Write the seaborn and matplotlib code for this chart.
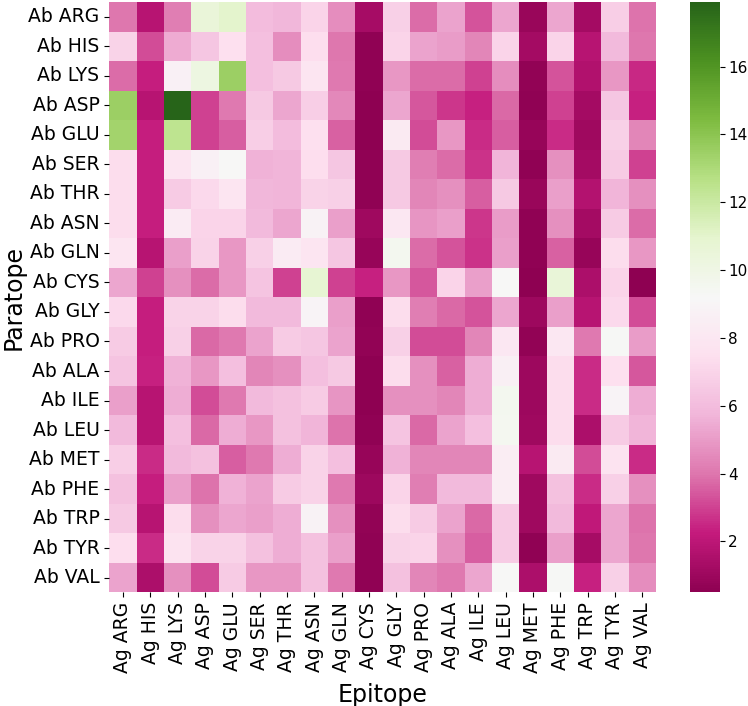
import numpy as np
import pandas as pd
import matplotlib
matplotlib.use("Agg")
import matplotlib.pyplot as plt
import seaborn as sns

# residue labels
epitope = ["ARG", "HIS", "LYS", "ASP", "GLU", "SER", "THR", "ASN", "GLN", "CYS",
           "GLY", "PRO", "ALA", "ILE", "LEU", "MET", "PHE", "TRP", "TYR", "VAL"]
paratope = list(epitope)

# one row per antibody residue
ab_arg = [4.0, 1.8, 4.2, 10.5, 11.0, 6.0, 5.8, 7.0, 4.6, 1.3, 6.8, 3.8, 5.2, 3.3, 5.3, 0.9, 5.3, 1.2, 6.7, 3.9]
ab_his = [6.9, 3.2, 5.4, 6.4, 7.5, 6.1, 4.6, 7.4, 4.0, 0.6, 7.0, 5.2, 5.0, 4.4, 7.0, 1.2, 7.0, 1.8, 5.9, 4.0]
ab_lys = [3.8, 2.3, 8.7, 10.2, 13.5, 6.1, 6.5, 7.9, 4.1, 0.6, 4.9, 3.8, 3.8, 3.0, 4.6, 0.7, 3.3, 1.6, 4.9, 2.5]
ab_asp = [13.5, 1.8, 17.9, 3.0, 4.1, 6.5, 5.3, 6.7, 4.5, 0.5, 5.3, 3.4, 2.8, 2.4, 3.7, 0.6, 3.0, 1.2, 6.4, 2.4]
ab_glu = [13.3, 2.3, 12.4, 3.0, 3.5, 6.7, 6.0, 7.5, 3.6, 0.5, 8.2, 3.2, 4.9, 2.6, 3.5, 0.8, 2.6, 1.1, 6.8, 4.4]
ab_ser = [7.3, 2.3, 7.8, 8.7, 9.2, 5.6, 5.7, 7.4, 6.4, 0.6, 6.5, 4.2, 3.8, 2.7, 5.7, 0.6, 4.7, 1.2, 6.6, 3.0]
ab_thr = [7.3, 2.3, 6.6, 7.2, 7.8, 5.8, 5.7, 6.9, 6.8, 0.6, 6.5, 4.4, 4.7, 3.5, 6.5, 0.9, 5.1, 1.7, 5.7, 4.7]
ab_asn = [7.3, 2.3, 8.3, 7.0, 7.0, 5.9, 5.3, 8.8, 5.1, 1.1, 8.0, 4.8, 5.1, 2.8, 5.0, 0.6, 4.7, 1.2, 6.6, 3.8]
ab_gln = [7.8, 1.8, 5.1, 6.9, 4.9, 6.8, 8.3, 7.8, 6.4, 0.8, 9.6, 3.8, 3.3, 2.7, 5.1, 0.6, 3.6, 0.8, 7.3, 4.9]
ab_cys = [5.3, 3.0, 4.7, 3.8, 4.9, 6.3, 3.0, 10.8, 3.0, 2.4, 4.9, 3.4, 7.0, 5.1, 9.2, 0.5, 10.6, 1.5, 7.0, 0.5]
ab_gly = [7.2, 2.3, 6.9, 6.9, 7.3, 5.9, 5.9, 8.9, 5.1, 0.6, 7.3, 4.2, 3.7, 3.3, 5.3, 1.0, 5.1, 1.8, 7.2, 3.2]
ab_pro = [6.6, 2.3, 6.8, 3.7, 4.1, 5.2, 6.6, 6.4, 5.2, 0.7, 6.8, 3.2, 3.2, 4.4, 8.0, 0.7, 8.0, 4.1, 9.3, 5.0]
ab_ala = [6.3, 2.4, 5.6, 4.9, 6.1, 4.4, 4.7, 6.1, 6.5, 0.5, 7.3, 4.7, 3.6, 5.5, 8.6, 1.0, 7.3, 2.6, 7.5, 3.4]
ab_ile = [5.1, 1.8, 5.5, 3.2, 4.1, 5.9, 6.2, 6.6, 4.8, 0.5, 4.7, 4.7, 4.4, 5.5, 9.6, 1.0, 7.3, 2.6, 8.9, 5.5]
ab_leu = [5.9, 1.8, 6.1, 3.7, 5.5, 4.9, 6.2, 5.7, 3.9, 0.6, 6.3, 3.7, 5.2, 6.1, 9.5, 1.1, 7.3, 1.5, 6.6, 5.7]
ab_met = [6.7, 2.6, 5.9, 6.2, 3.5, 4.1, 5.5, 6.9, 6.1, 0.8, 5.6, 4.4, 4.4, 4.4, 8.4, 1.8, 8.2, 3.2, 7.7, 2.6]
ab_phe = [6.2, 2.3, 5.1, 3.9, 5.6, 5.2, 6.6, 6.9, 4.1, 1.0, 7.0, 4.2, 5.9, 5.9, 8.4, 1.1, 6.2, 2.6, 6.8, 4.7]
ab_trp = [6.5, 1.8, 7.3, 4.7, 5.3, 5.1, 5.5, 8.8, 4.7, 0.7, 7.3, 6.6, 5.2, 3.7, 6.6, 1.1, 5.9, 2.1, 5.3, 3.9]
ab_tyr = [7.4, 2.6, 7.7, 6.9, 6.9, 6.2, 5.5, 6.2, 5.1, 0.6, 6.9, 7.0, 4.7, 3.5, 6.6, 0.6, 5.1, 1.3, 5.3, 4.0]
ab_val = [5.2, 1.5, 4.7, 3.2, 6.6, 4.9, 4.9, 6.2, 4.1, 0.6, 6.2, 4.4, 4.1, 5.3, 9.2, 1.5, 9.3, 2.4, 6.8, 4.6]

rows = [ab_arg, ab_his, ab_lys, ab_asp, ab_glu, ab_ser, ab_thr, ab_asn, ab_gln, ab_cys,
        ab_gly, ab_pro, ab_ala, ab_ile, ab_leu, ab_met, ab_phe, ab_trp, ab_tyr, ab_val]

df = pd.DataFrame(rows,
                  index=[f"Ab {r}" for r in paratope],
                  columns=[f"Ag {c}" for c in epitope])

fig = plt.figure(figsize=(7.48, 7.06), dpi=100)
ax = fig.add_axes([0.146, 0.161, 0.731, 0.836])
cax = fig.add_axes([0.922, 0.161, 0.041, 0.836])

sns.heatmap(df, cmap="PiYG", ax=ax, cbar_ax=cax)

ax.set_xlabel("Epitope", fontsize=17, labelpad=7)
ax.set_ylabel("Paratope", fontsize=17, labelpad=2)
ax.tick_params(axis="x", labelsize=13.5, rotation=90)
ax.tick_params(axis="y", labelsize=13.5, rotation=0)
cax.tick_params(labelsize=11, pad=2)

fig.savefig("out.png", dpi=100)
